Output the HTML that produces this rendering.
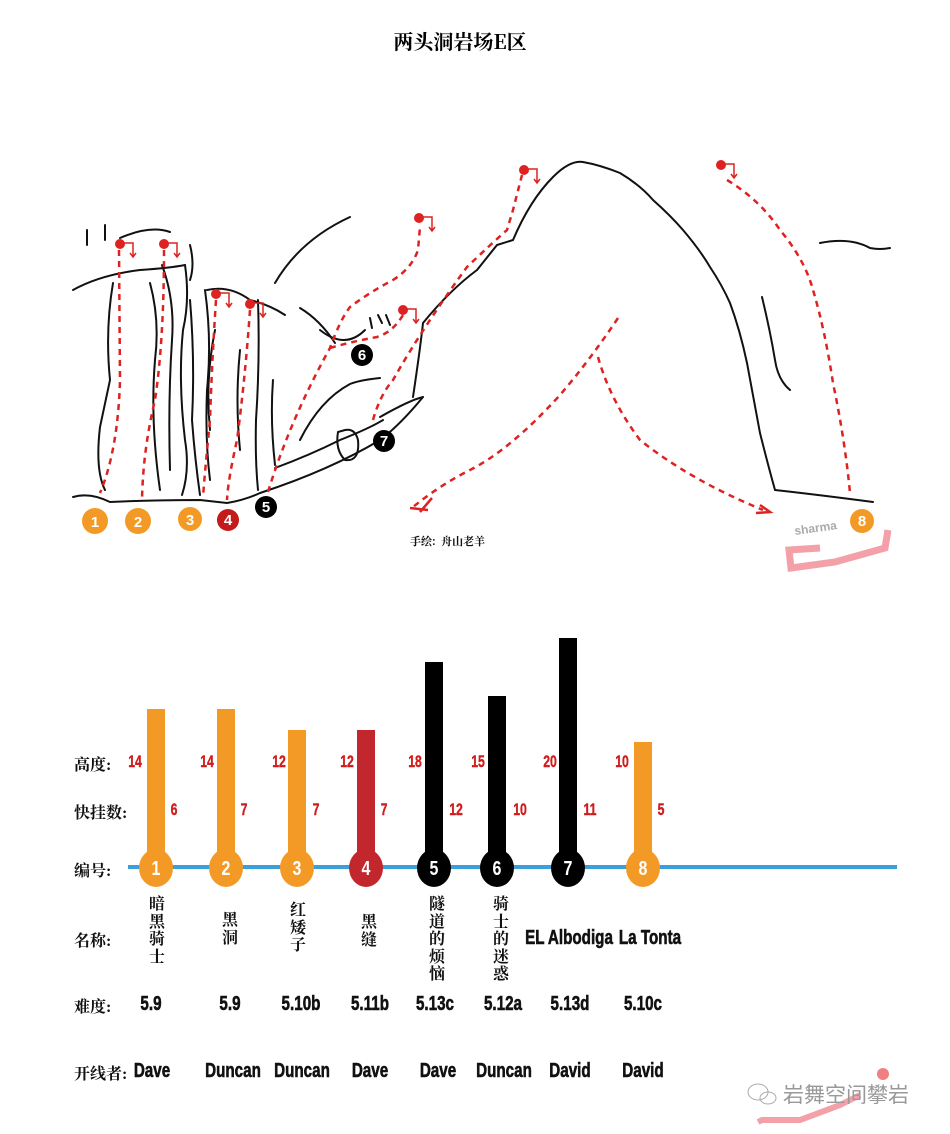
<!DOCTYPE html>
<html><head><meta charset="utf-8"><style>
html,body{margin:0;padding:0;background:#fff;}
body{width:950px;height:1134px;position:relative;overflow:hidden;font-family:"Liberation Serif","Noto Serif CJK SC",serif;}
.a{position:absolute;}
.lbl{position:absolute;left:74px;font-weight:bold;font-size:16px;color:#111;font-family:"Liberation Serif","Noto Serif CJK SC",serif;}
.n{position:absolute;color:#d01c1c;font-weight:bold;font-size:17px;line-height:20px;font-family:"Liberation Sans",sans-serif;transform:translateX(-50%) scaleX(0.72);-webkit-text-stroke:0.4px #d01c1c;}
.t{position:absolute;color:#111;font-weight:bold;font-size:20px;line-height:22px;font-family:"Liberation Sans",sans-serif;transform:translateX(-50%) scaleX(0.76);white-space:nowrap;-webkit-text-stroke:0.6px #111;}
.v{position:absolute;width:18px;transform:translateX(-50%);font-size:16px;line-height:17.5px;font-weight:bold;text-align:center;font-family:"Noto Serif CJK SC",serif;color:#111;}
</style></head><body>
<div class="a" style="left:0;width:920px;top:26px;text-align:center;font-size:20px;font-weight:bold;font-family:'Noto Serif CJK SC',serif;">两头洞岩场E区</div>

<svg class="a" style="left:0;top:0" width="950" height="620" viewBox="0 0 950 620">
<g fill="none" stroke="#111" stroke-width="2" stroke-linecap="round">
<path d="M73,497 Q90,492 110,502 Q150,500 200,500 L227,503 Q245,500 260,493 Q330,470 380,440 Q400,425 423,397"/>
<path d="M413,397 Q420,350 423,323 Q450,290 477,270 L497,245 L513,240 Q530,200 553,177 Q570,160 583,162 Q600,165 620,173 Q640,185 653,200 Q670,215 683,230 Q700,250 710,267 Q722,285 730,303 Q740,330 747,363 Q754,400 760,433 Q768,465 775,490 Q820,495 873,502"/>
<path d="M113,283 Q105,330 110,380 L100,427 Q95,470 105,490"/>
<path d="M73,290 Q100,275 140,270 Q170,268 185,265"/>
<path d="M120,238 Q150,225 170,232"/>
<path d="M87,230 L87,245 M105,225 L105,240"/>
<path d="M150,283 Q160,320 155,360 Q150,420 160,490"/>
<path d="M162,265 Q175,300 172,340 Q168,400 170,470"/>
<path d="M185,265 Q190,300 183,330 Q178,380 185,440 Q190,470 182,495"/>
<path d="M190,300 Q195,360 192,420 Q195,460 200,495"/>
<path d="M205,290 Q212,340 207,390 Q205,440 210,480"/>
<path d="M215,330 Q205,380 210,430"/>
<path d="M190,245 Q195,265 190,280"/>
<path d="M207,290 Q230,285 250,300 Q270,305 285,315"/>
<path d="M258,300 Q260,360 256,420 Q255,460 258,490"/>
<path d="M240,350 Q235,400 240,450"/>
<path d="M273,380 Q270,420 275,465"/>
<path d="M275,283 Q300,240 350,217"/>
<path d="M300,308 Q320,320 335,343"/>
<path d="M320,330 Q345,350 365,330"/>
<path d="M275,468 Q310,455 340,440 Q370,428 383,420"/>
<path d="M300,440 Q320,400 350,384 Q360,380 380,378"/>
<path d="M338,432 Q335,450 345,460 Q360,462 358,440 Q355,428 345,430Z"/>
<path d="M378,315 L382,323 M370,318 L372,328 M386,315 L390,325"/>
<path d="M423,397 Q410,400 380,417"/>
<path d="M820,243 Q850,237 870,248 Q880,250 890,248"/>
<path d="M762,297 Q770,330 775,360 Q778,380 790,390"/>
</g>
<g fill="none" stroke="#d22" stroke-width="2.5" stroke-dasharray="6,5">
<path d="M119,250 L120,380 Q118,450 100,493"/>
<path d="M164,250 Q164,340 155,400 Q143,450 142,500"/>
<path d="M216,300 Q212,360 210,420 Q205,470 203,497"/>
<path d="M250,310 Q245,380 237,440 Q228,480 227,500"/>
<path d="M268,492 Q290,420 330,348 Q340,320 350,307 Q370,292 393,280 Q412,268 418,250 L420,227"/>
<path d="M330,348 Q350,342 377,337 Q393,332 403,315"/>
<path d="M373,420 Q380,395 393,380 Q410,350 430,320 Q450,290 467,267 Q490,245 507,230 L513,210 L522,175"/>
<path d="M618,318 Q590,360 560,395 Q510,450 470,470 Q440,485 413,507"/>
<path d="M598,357 Q610,400 640,440 Q690,480 763,510"/>
<path d="M727,180 Q760,200 780,230 Q805,260 813,290 Q825,330 833,383 Q845,440 850,493"/>
</g>
<g stroke="#d22" stroke-width="2.5" fill="none">
<path d="M420,512 L432,498 M410,508 L428,510"/>
<path d="M760,505 L770,512 L756,513"/>
</g>
<g fill="#d22">
<circle cx="120" cy="244" r="5"/><circle cx="164" cy="244" r="5"/><circle cx="216" cy="294" r="5"/><circle cx="250" cy="304" r="5"/><circle cx="419" cy="218" r="5"/><circle cx="403" cy="310" r="5"/><circle cx="524" cy="170" r="5"/><circle cx="721" cy="165" r="5"/>
</g>
<g stroke="#d22" stroke-width="1.5" fill="none">
<path d="M124,243 H133 V256 M130,253 L133,257 L136,253"/>
<path d="M168,243 H177 V256 M174,253 L177,257 L180,253"/>
<path d="M220,293 H229 V306 M226,303 L229,307 L232,303"/>
<path d="M254,303 H263 V316 M260,313 L263,317 L266,313"/>
<path d="M423,217 H432 V230 M429,227 L432,231 L435,227"/>
<path d="M407,309 H416 V322 M413,319 L416,323 L419,319"/>
<path d="M528,169 H537 V182 M534,179 L537,183 L540,179"/>
<path d="M725,164 H734 V177 M731,174 L734,178 L737,174"/>
</g>
<g font-family="Liberation Sans,sans-serif" font-weight="bold" font-size="15" text-anchor="middle" fill="#fff">
<circle cx="95" cy="521" r="13" fill="#f39a26"/><text x="95" y="527">1</text>
<circle cx="138" cy="521" r="13" fill="#f39a26"/><text x="138" y="527">2</text>
<circle cx="190" cy="519" r="12" fill="#f39a26"/><text x="190" y="525">3</text>
<circle cx="228" cy="520" r="11" fill="#c41a1a"/><text x="228" y="525">4</text>
<circle cx="266" cy="507" r="11" fill="#000"/><text x="266" y="512">5</text>
<circle cx="362" cy="355" r="11" fill="#000"/><text x="362" y="360">6</text>
<circle cx="384" cy="441" r="11" fill="#000"/><text x="384" y="446">7</text>
<circle cx="862" cy="521" r="12" fill="#f39a26"/><text x="862" y="526">8</text>
</g>
<g fill="none" stroke="#f3a0a8" stroke-width="7">
<path d="M820,548 L789,550 L791,568 L835,562 L885,548 L888,530"/>
</g>
<text x="795" y="535" font-family="Liberation Sans,sans-serif" font-weight="bold" font-size="12" fill="#aaa" transform="rotate(-8 795 535)">sharma</text>
<text x="410" y="545" font-family="Noto Serif CJK SC,serif" font-weight="bold" font-size="11" fill="#111">手绘:&#160;&#160;舟山老羊</text>
</svg>

<div class="lbl" style="top:752px">高度:</div>
<div class="lbl" style="top:800px">快挂数:</div>
<div class="lbl" style="top:858px">编号:</div>
<div class="lbl" style="top:928px">名称:</div>
<div class="lbl" style="top:994px">难度:</div>
<div class="lbl" style="top:1061px">开线者:</div>

<div class="a" style="left:128px;top:865px;width:769px;height:4px;background:#3aa0dc"></div>

<svg class="a" style="left:0;top:630px" width="950" height="260">
<g>
<rect x="147" y="79" width="18" height="155" fill="#f39a26"/>
<rect x="217" y="79" width="18" height="155" fill="#f39a26"/>
<rect x="288" y="100" width="18" height="134" fill="#f39a26"/>
<rect x="357" y="100" width="18" height="134" fill="#c1272d"/>
<rect x="425" y="32" width="18" height="202" fill="#000"/>
<rect x="488" y="66" width="18" height="168" fill="#000"/>
<rect x="559" y="8" width="18" height="226" fill="#000"/>
<rect x="634" y="112" width="18" height="122" fill="#f39a26"/>
</g>
<g font-family="Liberation Sans,sans-serif" font-weight="bold" font-size="20" text-anchor="middle" fill="#fff">
<ellipse cx="156" cy="238" rx="17" ry="19" fill="#f39a26"/><text x="156" y="245" transform="translate(156 0) scale(0.8 1) translate(-156 0)">1</text>
<ellipse cx="226" cy="238" rx="17" ry="19" fill="#f39a26"/><text x="226" y="245" transform="translate(226 0) scale(0.8 1) translate(-226 0)">2</text>
<ellipse cx="297" cy="238" rx="17" ry="19" fill="#f39a26"/><text x="297" y="245" transform="translate(297 0) scale(0.8 1) translate(-297 0)">3</text>
<ellipse cx="366" cy="238" rx="17" ry="19" fill="#c1272d"/><text x="366" y="245" transform="translate(366 0) scale(0.8 1) translate(-366 0)">4</text>
<ellipse cx="434" cy="238" rx="17" ry="19" fill="#000"/><text x="434" y="245" transform="translate(434 0) scale(0.8 1) translate(-434 0)">5</text>
<ellipse cx="497" cy="238" rx="17" ry="19" fill="#000"/><text x="497" y="245" transform="translate(497 0) scale(0.8 1) translate(-497 0)">6</text>
<ellipse cx="568" cy="238" rx="17" ry="19" fill="#000"/><text x="568" y="245" transform="translate(568 0) scale(0.8 1) translate(-568 0)">7</text>
<ellipse cx="643" cy="238" rx="17" ry="19" fill="#f39a26"/><text x="643" y="245" transform="translate(643 0) scale(0.8 1) translate(-643 0)">8</text>
</g>
</svg>

<div class="n" style="left:135px;top:752px">14</div>
<div class="n" style="left:207px;top:752px">14</div>
<div class="n" style="left:279px;top:752px">12</div>
<div class="n" style="left:347px;top:752px">12</div>
<div class="n" style="left:415px;top:752px">18</div>
<div class="n" style="left:478px;top:752px">15</div>
<div class="n" style="left:550px;top:752px">20</div>
<div class="n" style="left:622px;top:752px">10</div>
<div class="n" style="left:174px;top:800px">6</div>
<div class="n" style="left:244px;top:800px">7</div>
<div class="n" style="left:316px;top:800px">7</div>
<div class="n" style="left:384px;top:800px">7</div>
<div class="n" style="left:456px;top:800px">12</div>
<div class="n" style="left:520px;top:800px">10</div>
<div class="n" style="left:590px;top:800px">11</div>
<div class="n" style="left:661px;top:800px">5</div>

<div class="v" style="left:157px;top:894px">暗黑骑士</div>
<div class="v" style="left:230px;top:910px">黑洞</div>
<div class="v" style="left:298px;top:900px">红矮子</div>
<div class="v" style="left:369px;top:912px">黑缝</div>
<div class="v" style="left:437px;top:894px">隧道的烦恼</div>
<div class="v" style="left:501px;top:894px">骑士的迷惑</div>
<div class="t" style="left:569px;top:927px">EL Albodiga</div>
<div class="t" style="left:650px;top:927px">La Tonta</div>

<div class="t" style="left:151px;top:993px">5.9</div>
<div class="t" style="left:230px;top:993px">5.9</div>
<div class="t" style="left:301px;top:993px">5.10b</div>
<div class="t" style="left:370px;top:993px">5.11b</div>
<div class="t" style="left:435px;top:993px">5.13c</div>
<div class="t" style="left:503px;top:993px">5.12a</div>
<div class="t" style="left:570px;top:993px">5.13d</div>
<div class="t" style="left:643px;top:993px">5.10c</div>

<div class="t" style="left:152px;top:1060px">Dave</div>
<div class="t" style="left:233px;top:1060px">Duncan</div>
<div class="t" style="left:302px;top:1060px">Duncan</div>
<div class="t" style="left:370px;top:1060px">Dave</div>
<div class="t" style="left:438px;top:1060px">Dave</div>
<div class="t" style="left:504px;top:1060px">Duncan</div>
<div class="t" style="left:570px;top:1060px">David</div>
<div class="t" style="left:643px;top:1060px">David</div>

<svg class="a" style="left:740px;top:1060px" width="210" height="74">
<path d="M18,62 L22,60 L60,60 L100,45 L120,35" stroke="#f3a0a8" stroke-width="6" fill="none"/>
<circle cx="143" cy="14" r="6" fill="#f08080"/>
<ellipse cx="18" cy="32" rx="10" ry="8" fill="none" stroke="#aaa"/>
<ellipse cx="28" cy="38" rx="8" ry="6" fill="none" stroke="#aaa"/>
<text x="43" y="42" font-family="Noto Sans CJK SC,sans-serif" font-size="21" fill="#999">岩舞空间攀岩</text>
</svg>
</body></html>
